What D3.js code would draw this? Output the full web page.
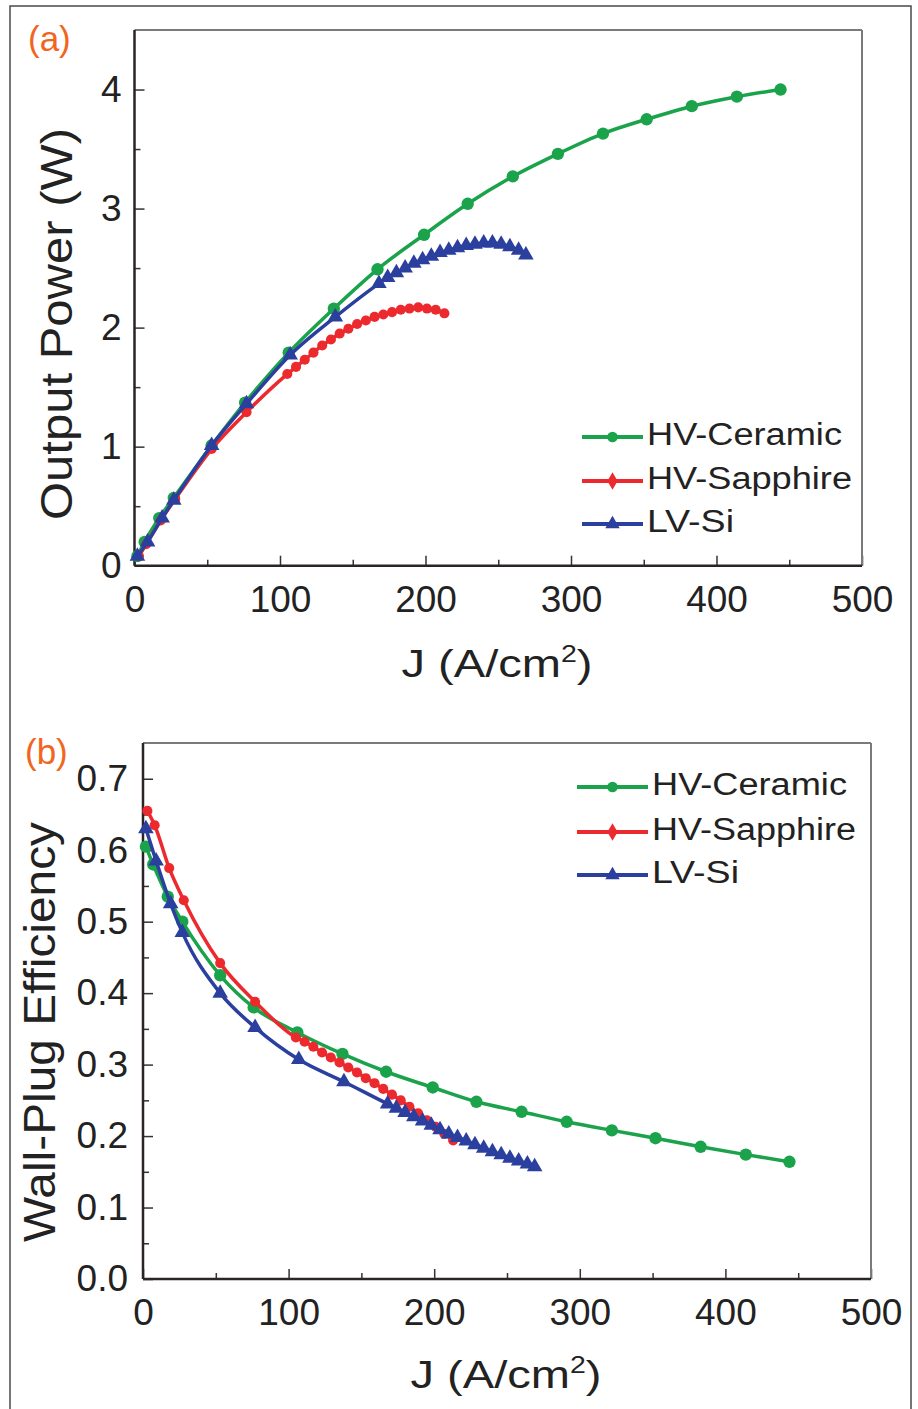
<!DOCTYPE html>
<html>
<head>
<meta charset="utf-8">
<script src="https://cdn.jsdelivr.net/npm/d3@7"></script>
<style>
  body { margin: 0; background: #fff; }
  text { font-family: "Liberation Sans", Arial, sans-serif; }
</style>
</head>
<body>
<svg id="svgContent" width="918" height="1409"></svg>
<script>
// ---- data ----
const seriesNames = ["HV-Ceramic", "HV-Sapphire", "LV-Si"];
const seriesColors = ["#1aa34a", "#ec2a2e", "#2b3f9e"];

const jCeramic = [2, 7, 17, 27, 53, 76, 106, 137, 167, 199, 229, 260, 291, 322, 352, 383, 414, 444];
const pCeramic = [0.08, 0.2, 0.4, 0.57, 1.01, 1.37, 1.79, 2.16, 2.49, 2.78, 3.04, 3.27, 3.46, 3.63, 3.75, 3.86, 3.94, 4.0];
const wpeCeramic = [0.605, 0.58, 0.535, 0.50, 0.425, 0.38, 0.345, 0.315, 0.29, 0.268, 0.248, 0.234, 0.22, 0.208, 0.197, 0.185, 0.174, 0.164];

const jSapphire = [3, 8, 18, 28, 53, 77, 105, 111, 117, 123, 129, 135, 141, 147, 153, 159, 165, 171, 177, 183, 189, 195, 201, 207, 213];
const pSapphire = [0.08, 0.18, 0.38, 0.56, 0.98, 1.29, 1.61, 1.67, 1.73, 1.79, 1.85, 1.90, 1.95, 1.99, 2.03, 2.06, 2.09, 2.11, 2.13, 2.15, 2.16, 2.17, 2.16, 2.15, 2.12];
const wpeSapphire = [0.655, 0.635, 0.575, 0.53, 0.442, 0.388, 0.338, 0.332, 0.325, 0.317, 0.31, 0.303, 0.296, 0.289, 0.281, 0.274, 0.266, 0.258, 0.25, 0.241, 0.232, 0.222, 0.213, 0.203, 0.194];

const jSi = [2, 9, 19, 27, 53, 77, 107, 138, 168, 174, 180, 186, 192, 198, 204, 210, 216, 222, 228, 234, 240, 246, 252, 258, 264, 269];
const pSi = [0.08, 0.2, 0.4, 0.55, 1.01, 1.36, 1.77, 2.09, 2.37, 2.42, 2.46, 2.50, 2.54, 2.57, 2.60, 2.63, 2.65, 2.67, 2.69, 2.70, 2.71, 2.71, 2.70, 2.68, 2.65, 2.61];
const wpeSi = [0.63, 0.585, 0.525, 0.485, 0.40, 0.352, 0.307, 0.276, 0.245, 0.239, 0.233, 0.227, 0.221, 0.215, 0.209, 0.203, 0.198, 0.193, 0.188, 0.183, 0.178, 0.174, 0.169, 0.165, 0.161, 0.157];

const xTicks = [0, 100, 200, 300, 400, 500];
const xMinorTicks = [50, 150, 250, 350, 450];
const yTicksA = [0, 1, 2, 3, 4];
const yMinorTicksA = [0.5, 1.5, 2.5, 3.5];
const yTicksB = [0, 0.1, 0.2, 0.3, 0.4, 0.5, 0.6, 0.7];
const yMinorTicksB = [0.05, 0.15, 0.25, 0.35, 0.45, 0.55, 0.65];

const svg = d3.select('#svgContent');

// outer frame of the figure
svg.append('rect')
    .attr('x', 10).attr('y', 6)
    .attr('width', 901).attr('height', 1410)
    .attr('fill', 'none')
    .attr('stroke', '#4a4a4a')
    .attr('stroke-width', 1.5);

const zip = (xs, ys) => xs.map((x, i) => ({x: x, y: ys[i]}));
const symbols = [d3.symbolCircle, d3.symbolCircle, d3.symbolTriangle];
const symbolSizes = [120, 80, 105];

function drawPanel(opt) {
    const x = d3.scaleLinear().domain([0, 500]).range([opt.left, opt.right]);
    const y = d3.scaleLinear().domain(opt.yDomain).range([opt.bottom, opt.top]);
    const g = svg.append('g');

    // minor ticks (inward)
    g.append('g')
        .attr('transform', `translate(0,${opt.bottom})`)
        .call(d3.axisBottom(x).tickValues(xMinorTicks).tickSize(-6).tickFormat(''))
        .call(a => a.select('.domain').remove())
        .selectAll('line').attr('stroke', '#333').attr('stroke-width', 1.5);
    g.append('g')
        .attr('transform', `translate(${opt.left},0)`)
        .call(d3.axisLeft(y).tickValues(opt.yMinor).tickSize(-6).tickFormat(''))
        .call(a => a.select('.domain').remove())
        .selectAll('line').attr('stroke', '#333').attr('stroke-width', 1.5);

    // major ticks
    const xa = g.append('g')
        .attr('transform', `translate(0,${opt.bottom})`)
        .call(d3.axisBottom(x).tickValues(xTicks).tickSize(-10).tickPadding(0))
        .call(a => a.select('.domain').remove());
    xa.selectAll('line').attr('stroke', '#333').attr('stroke-width', 1.5);
    xa.selectAll('text')
        .attr('y', 46).attr('dy', 0)
        .style('font-size', '37px').attr('fill', '#222');

    const ya = g.append('g')
        .attr('transform', `translate(${opt.left},0)`)
        .call(d3.axisLeft(y).tickValues(opt.yTicks).tickSize(-10).tickPadding(opt.yPad).tickFormat(opt.yFormat))
        .call(a => a.select('.domain').remove());
    ya.selectAll('line').attr('stroke', '#333').attr('stroke-width', 1.5);
    ya.selectAll('text')
        .style('font-size', '37px').attr('fill', '#222');

    // frame: grey top/right, dark left/bottom
    g.append('line').attr('x1', opt.left).attr('x2', opt.right).attr('y1', opt.top).attr('y2', opt.top)
        .attr('stroke', '#7a7a7a').attr('stroke-width', 2);
    g.append('line').attr('x1', opt.right).attr('x2', opt.right).attr('y1', opt.top).attr('y2', opt.bottom)
        .attr('stroke', '#7a7a7a').attr('stroke-width', 2);
    g.append('line').attr('x1', opt.left).attr('x2', opt.left).attr('y1', opt.top).attr('y2', opt.bottom)
        .attr('stroke', '#2a2424').attr('stroke-width', 2.5);
    g.append('line').attr('x1', opt.left).attr('x2', opt.right).attr('y1', opt.bottom).attr('y2', opt.bottom)
        .attr('stroke', '#2a2424').attr('stroke-width', 2.5);

    // series
    const line = d3.line().x(d => x(d.x)).y(d => y(d.y)).curve(d3.curveMonotoneX);
    opt.series.forEach((s, i) => {
        g.append('path')
            .datum(s)
            .attr('d', line)
            .attr('fill', 'none')
            .attr('stroke', seriesColors[i])
            .attr('stroke-width', 3.5);
        g.selectAll(null)
            .data(s)
            .join('path')
            .attr('transform', d => `translate(${x(d.x)},${y(d.y)})`)
            .attr('d', d3.symbol().type(symbols[i]).size(symbolSizes[i]))
            .attr('fill', seriesColors[i]);
    });

    // legend
    seriesNames.forEach((name, i) => {
        const by = opt.legendY[i];
        g.append('line')
            .attr('x1', opt.legendX1).attr('x2', opt.legendX2)
            .attr('y1', by - 8).attr('y2', by - 8)
            .attr('stroke', seriesColors[i]).attr('stroke-width', 4);
        g.append('path')
            .attr('transform', `translate(${(opt.legendX1 + opt.legendX2) / 2},${by - 8})`)
            .attr('d', d3.symbol().type(i === 1 ? d3.symbolDiamond : symbols[i]).size(90))
            .attr('fill', seriesColors[i]);
        g.append('text')
            .attr('x', opt.legendX2 + 4).attr('y', by)
            .attr('textLength', opt.legendW[i])
            .attr('lengthAdjust', 'spacingAndGlyphs')
            .style('font-size', '31px').attr('fill', '#222')
            .text(name);
    });

    // x title
    const xt = g.append('text')
        .attr('x', opt.xTitleX).attr('y', opt.xTitleY)
        .attr('text-anchor', 'middle')
        .attr('textLength', 191)
        .attr('lengthAdjust', 'spacingAndGlyphs')
        .style('font-size', '38px').attr('fill', '#222');
    xt.append('tspan').text('J (A/cm');
    xt.append('tspan').attr('dy', -15).style('font-size', '23px').text('2');
    xt.append('tspan').attr('dy', 15).text(')');

    // y title
    g.append('text')
        .attr('transform', `translate(${opt.yTitleX},${opt.yTitleY}) rotate(-90)`)
        .attr('text-anchor', 'middle')
        .attr('textLength', opt.yTitleW)
        .attr('lengthAdjust', 'spacingAndGlyphs')
        .style('font-size', '45px').attr('fill', '#222')
        .text(opt.yTitle);

    // panel tag
    g.append('text')
        .attr('x', opt.tagX).attr('y', opt.tagY)
        .style('font-size', '35px').attr('fill', '#f0661f')
        .text(opt.tag);
}

drawPanel({
    left: 134.5, right: 862, top: 30, bottom: 565.7,
    yDomain: [0, 4.5], yTicks: yTicksA, yMinor: yMinorTicksA, yPad: 13, yFormat: d3.format('d'),
    series: [zip(jCeramic, pCeramic), zip(jSapphire, pSapphire), zip(jSi, pSi)],
    legendX1: 582, legendX2: 643, legendY: [445, 489, 532], legendW: [195, 205, 87],
    xTitleX: 497, xTitleY: 677,
    yTitle: 'Output Power (W)', yTitleX: 72, yTitleY: 324, yTitleW: 392,
    tag: '(a)', tagX: 28, tagY: 51
});

drawPanel({
    left: 143, right: 871, top: 743, bottom: 1279,
    yDomain: [0, 0.75], yTicks: yTicksB, yMinor: yMinorTicksB, yPad: 15, yFormat: d3.format('.1f'),
    series: [zip(jCeramic, wpeCeramic), zip(jSapphire, wpeSapphire), zip(jSi, wpeSi)],
    legendX1: 577, legendX2: 648, legendY: [795, 840, 883], legendW: [195, 204, 87],
    xTitleX: 506, xTitleY: 1388,
    yTitle: 'Wall-Plug Efficiency', yTitleX: 55, yTitleY: 1032, yTitleW: 420,
    tag: '(b)', tagX: 25, tagY: 764
});
</script>
</body>
</html>
